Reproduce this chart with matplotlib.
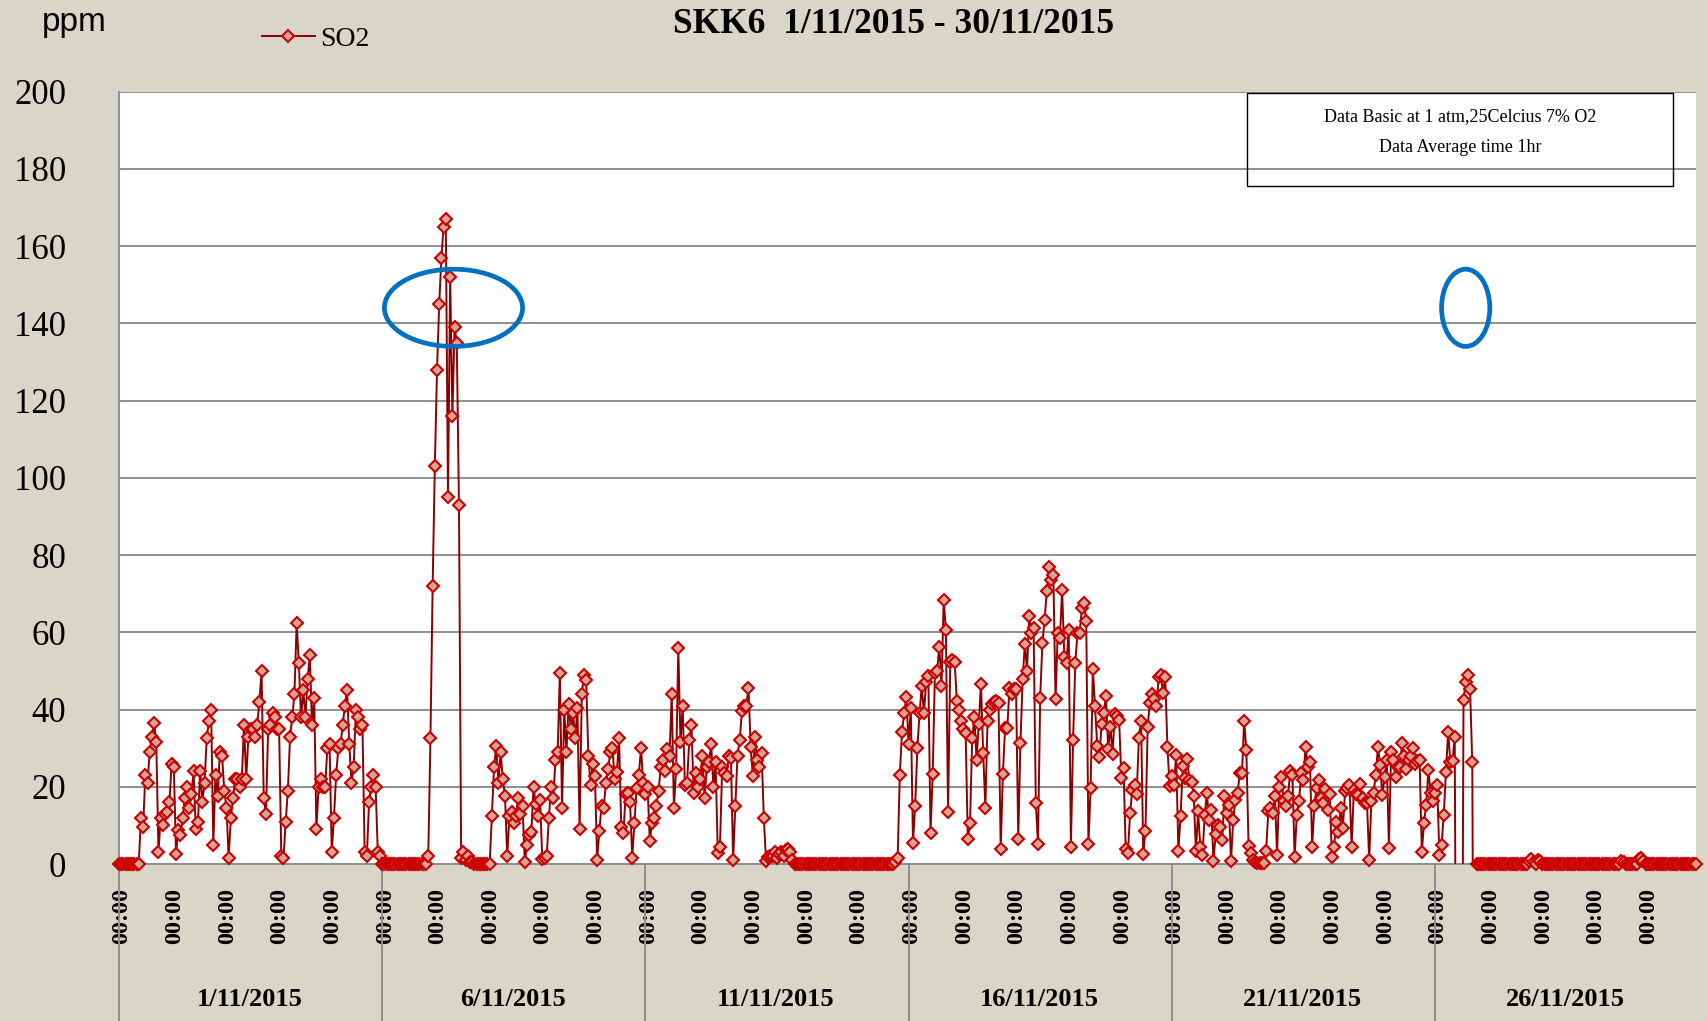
import matplotlib
matplotlib.use("Agg")
import matplotlib.pyplot as plt
import matplotlib.transforms as mtransforms
from matplotlib.lines import Line2D
from matplotlib.patches import Ellipse, Rectangle
import numpy as np

# hourly SO2 (ppm), one list per day of November 2015; -99 = invalid reading (off scale)
d01 = [0, 0, 0, 0, 0, 0, 0, 0, 0, 0, 12, 9.6, 23, 21, 29, 33, 36.5, 31.6, 3, 12, 10, 13, 13.5, 16]
d02 = [26, 25, 2.5, 8.8, 7.5, 12, 17, 20, 14.5, 18, 24, 9, 11, 24, 16, 21, 32.6, 37, 40, 5, 23, 17.6, 29, 28]
d03 = [19, 14.6, 1.5, 12, 17, 22, 22, 20, 22, 36, 22, 33, 35, 35, 33, 36, 42, 50, 17, 13, 35, 36, 39, 38]
d04 = [35, 35, 2, 1.5, 11, 19, 33, 38, 44, 62.5, 52, 38, 45, 38, 48, 54, 36, 43, 9, 20, 22, 20, 20, 30]
d05 = [31, 3, 12, 23, 30, 31, 36, 41, 45, 31, 21, 25, 40, 38, 35, 36, 3, 2, 16, 20, 23, 20, 3, 2]
d06 = [0, 0, 0, 0, 0, 0, 0, 0, 0, 0, 0, 0, 0, 0, 0, 0, 0, 0, 0, 0, 0, 2, 32.5, 72]
d07 = [103, 128, 145, 157, 165, 167, 95, 152, 116, 139, 135, 93, 1.5, 3, 1, 2, 0.5, 0.5, 0, 0, 0, 0, 0, 0]
d08 = [0, 0, 12.5, 25, 30.5, 21, 29, 22, 17.5, 2, 12.5, 13.5, 10.5, 12.5, 17, 13, 15, 0.5, 5, 7.5, 8.3, 20, 15.5, 12.5]
d09 = [16.5, 1.2, 1.6, 2, 12, 20, 17, 27, 29, 49.5, 14.5, 40, 29, 41.5, 35, 39, 32.5, 40.5, 9, 44, 49, 47.7, 28, 20.5]
d10 = [26, 22.7, 1, 8.5, 15, 14.5, 21, 24.5, 29, 30, 22, 23.8, 32.5, 9.6, 8, 18, 18.5, 16, 1.6, 10.6, 19.8, 23, 30, 21]
d11 = [18, 20, 6, 10.6, 12, 15, 19, 25, 27, 24, 29.7, 28, 44, 14.6, 24.5, 56, 31.5, 41, 20.4, 21, 32, 36, 18.5, 23.5]
d12 = [20, 22, 28, 17, 25, 26.5, 31, 20, 26.3, 2.8, 4.5, 25, 23.5, 22.7, 28, 27.5, 1, 15, 28, 32, 39.5, 41, 41, 45.6]
d13 = [30.4, 22.7, 33, 27, 25, 28.7, 11.8, 0.8, 1.7, 2, 2, 3, 1.5, 2.5, 3, 2, 3.5, 4, 3, 1, 0, 0, 0, 0]
d14 = [0, 0, 0, 0, 0, 0, 0, 0, 0, 0, 0, 0, 0, 0, 0, 0, 0, 0, 0, 0, 0, 0, 0, 0]
d15 = [0, 0, 0, 0, 0, 0, 0, 0, 0, 0, 0, 0, 0, 0, 0, 0, 0, 0, 0.5, 1.5, 23, 34.3, 39.2, 43.2]
d16 = [31, 40.5, 5.5, 15, 30, 39, 46.2, 39, 47, 48.7, 8.1, 23.4, 49.4, 50, 56.3, 46.2, 68.4, 60.6, 13.5, 52.2, 52.8, 52.4, 42.3, 39.9]
d17 = [36.9, 35, 34, 6.4, 10.5, 32.5, 38, 27, 36.2, 46.7, 28.8, 14.6, 36.9, 40, 41.5, 42, 42.1, 41.8, 3.8, 23.4, 35.2, 35.2, 45.6, 44]
d18 = [45.3, 45.3, 6.6, 31.3, 47.8, 57, 50, 64.3, 59.7, 61, 15.9, 5.2, 42.9, 57.3, 63.2, 70.6, 77, 73.6, 74.9, 42.7, 59.8, 58.5, 71, 53.7]
d19 = [52, 60.6, 4.5, 32.1, 52, 59.7, 59.8, 66.2, 67.5, 63, 5.2, 19.6, 50.4, 41, 30.6, 27.7, 36.3, 39.2, 43.5, 29.7, 35.5, 28.5, 38.8, 38.3]
d20 = [37.3, 22.2, 24.8, 3.8, 2.8, 13.3, 19.2, 20.5, 18, 32.6, 37.1, 2.6, 8.6, 35.5, 41.8, 44, 42.7, 40.8, 48.5, 49, 44.2, 48.4, 30.4, 20.2]
d21 = [22.8, 20.5, 28.3, 3.4, 12.3, 25.4, 22.2, 27.2, 21.8, 21.3, 17.6, 3.4, 13.6, 4.5, 2.3, 12.7, 18.3, 11.4, 13.9, 0.7, 7.8, 10.1, 9.6, 6.2]
d22 = [17.6, 13.1, 15.3, 0.9, 11.4, 16.6, 18.3, 23.5, 23.5, 37.1, 29.4, 4.7, 2.8, 1, 0.5, 0.3, 0.3, 0.2, 0.2, 3.4, 13.6, 14.5, 13.1, 17.6]
d23 = [2.3, 20, 22.6, 16.2, 14.9, 17.5, 24.2, 23.1, 1.8, 12.7, 16.2, 23.5, 21.8, 30.4, 25.2, 26.5, 4.5, 15, 19.6, 21.8, 17, 15.9, 19.3, 14.1]
d24 = [18.1, 1.8, 4.5, 11, 8.4, 14.4, 9.3, 18.8, 19.6, 20.5, 4.5, 19.1, 18.1, 17.8, 20.8, 17, 15.7, 15.9, 1, 16.2, 18.3, 23.1, 30.4, 25.6]
d25 = [17.8, 22.5, 26.9, 4.2, 29, 26.9, 22.5, 25.2, 25.2, 31.3, 28, 24.5, 26.9, 28, 30, 26, 26.7, 26.9, 3.2, 10.6, 15.4, 24.4, 18.3, 16.2]
d26 = [18.3, 20.5, 2.4, 5, 12.7, 23.9, 34.3, 26.5, 26.7, 33, -99, -99, -99, 42.5, 47, 49, 45.3, 26.3, -99, 0, 0, 0, 0, 0]
d27 = [0, 0, 0, 0, 0, 0, 0, 0, 0, 0, 0, 0, 0, 0, 0, 0, 0, 0, 0, 0.8, 1.2, 0.5, 0, 1.0]
d28 = [0.7, 0, 0, 0, 0, 0, 0, 0, 0, 0, 0, 0, 0, 0, 0, 0, 0, 0, 0, 0, 0, 0, 0, 0]
d29 = [0, 0, 0, 0, 0, 0, 0, 0, 0, 0, 0, 0, 0, 0.8, 0.5, 0, 0, 0, 0, 0, 0, 1.2, 1.5, 0.8]
d30 = [0, 0, 0, 0, 0, 0, 0, 0, 0, 0, 0, 0, 0, 0, 0, 0, 0, 0, 0, 0, 0, 0, 0, 0]

hour_labels = ["00:00"] * 30
group_labels = ["1/11/2015", "6/11/2015", "11/11/2015", "16/11/2015", "21/11/2015", "26/11/2015"]
y_ticks = [0, 20, 40, 60, 80, 100, 120, 140, 160, 180, 200]

days = [d01, d02, d03, d04, d05, d06, d07, d08, d09, d10, d11, d12, d13, d14, d15,
        d16, d17, d18, d19, d20, d21, d22, d23, d24, d25, d26, d27, d28, d29, d30]
so2 = np.array([v for d in days for v in d], dtype=float)
hours = np.arange(len(so2))

BG = "#d9d5c7"
LINE = "#8b0000"
EDGE = "#cc0000"
FACE = "#d4a597"
GRID = "#8f8f8f"
SERIF = "Liberation Serif"
MS = 6.6
MEW = 1.5

fig = plt.figure(figsize=(17.08, 10.21), dpi=100, facecolor=BG)
ax = fig.add_axes([0.06967, 0.15377, 0.92330, 0.75661])
ax.set_facecolor("white")

ax.plot(hours, so2, color=LINE, linewidth=1.4, zorder=3)
valid = so2 >= 0
ax.plot(hours[valid], so2[valid], linestyle="none", marker="D", markersize=MS,
        markerfacecolor=FACE, markeredgecolor=EDGE, markeredgewidth=MEW,
        clip_on=False, zorder=4)

ax.set_xlim(0, len(so2) - 1)
ax.set_ylim(0, 200)
ax.set_yticks(y_ticks)
ax.set_yticklabels([str(v) for v in y_ticks], family=SERIF, fontsize=25)
ax.tick_params(axis="y", length=0, pad=38)
ax.grid(axis="y", color=GRID, linewidth=1.4, zorder=0)
ax.set_axisbelow(True)

ax.set_xticks(np.arange(0, len(so2), 24))
ax.set_xticklabels(hour_labels, rotation=90, family=SERIF, fontweight="bold",
                   fontsize=17.5, va="top", ha="center")
ax.tick_params(axis="x", length=0, pad=17)
# labels sit a few pixels right of the day boundary in the original
shift = mtransforms.ScaledTranslation(3 / 100, 0, fig.dpi_scale_trans)
for lbl in ax.get_xticklabels():
    lbl.set_transform(lbl.get_transform() + shift)

for side in ("top", "right"):
    ax.spines[side].set_visible(False)
for side in ("left", "bottom"):
    ax.spines[side].set_color(GRID)
    ax.spines[side].set_linewidth(1.4)

# date groups under the hour labels
trans = mtransforms.blended_transform_factory(ax.transData, ax.transAxes)
for k, label in enumerate(group_labels):
    start = k * 120
    ax.plot([start, start], [0, -0.21], transform=trans, color=GRID,
            linewidth=1.4, clip_on=False)
    mid = (start + min(start + 120, len(so2)) - 1) / 2
    ax.text(mid, -0.176, label, transform=trans, ha="center", va="center",
            family=SERIF, fontweight="bold", fontsize=19)

# highlighted areas
for cx, w in [(152.5, 63), (614, 22)]:
    ax.add_patch(Ellipse((cx, 144), w, 20, fill=False, edgecolor="#0070c0",
                         linewidth=3.4, zorder=6))

# note box
ax.add_patch(Rectangle((0.7153, 0.8777), 0.2701, 0.1203, transform=ax.transAxes,
                       fill=False, edgecolor="black", linewidth=1.0, zorder=5))
ax.text(0.8503, 0.967, "Data Basic at 1 atm,25Celcius 7% O2", transform=ax.transAxes,
        ha="center", va="center", family=SERIF, fontsize=13)
ax.text(0.8503, 0.928, "Data Average time 1hr", transform=ax.transAxes,
        ha="center", va="center", family=SERIF, fontsize=13)

fig.text(0.523, 0.976, "SKK6  1/11/2015 - 30/11/2015", ha="center", va="center",
         family=SERIF, fontweight="bold", fontsize=25.5)
fig.text(0.0246, 0.970, "ppm", ha="left", va="baseline",
         family="Liberation Sans", fontsize=24)

handle = Line2D([], [], color=LINE, linewidth=1.4, marker="D", markersize=MS,
                markerfacecolor=FACE, markeredgecolor=EDGE, markeredgewidth=MEW)
fig.legend([handle], ["SO2"], loc="center left", bbox_to_anchor=(0.1534, 0.962),
           frameon=False, prop={"family": SERIF, "size": 20}, handlelength=1.9,
           handletextpad=0.2, borderpad=0, borderaxespad=0)

fig.savefig("out.png", dpi=100, facecolor=BG)
